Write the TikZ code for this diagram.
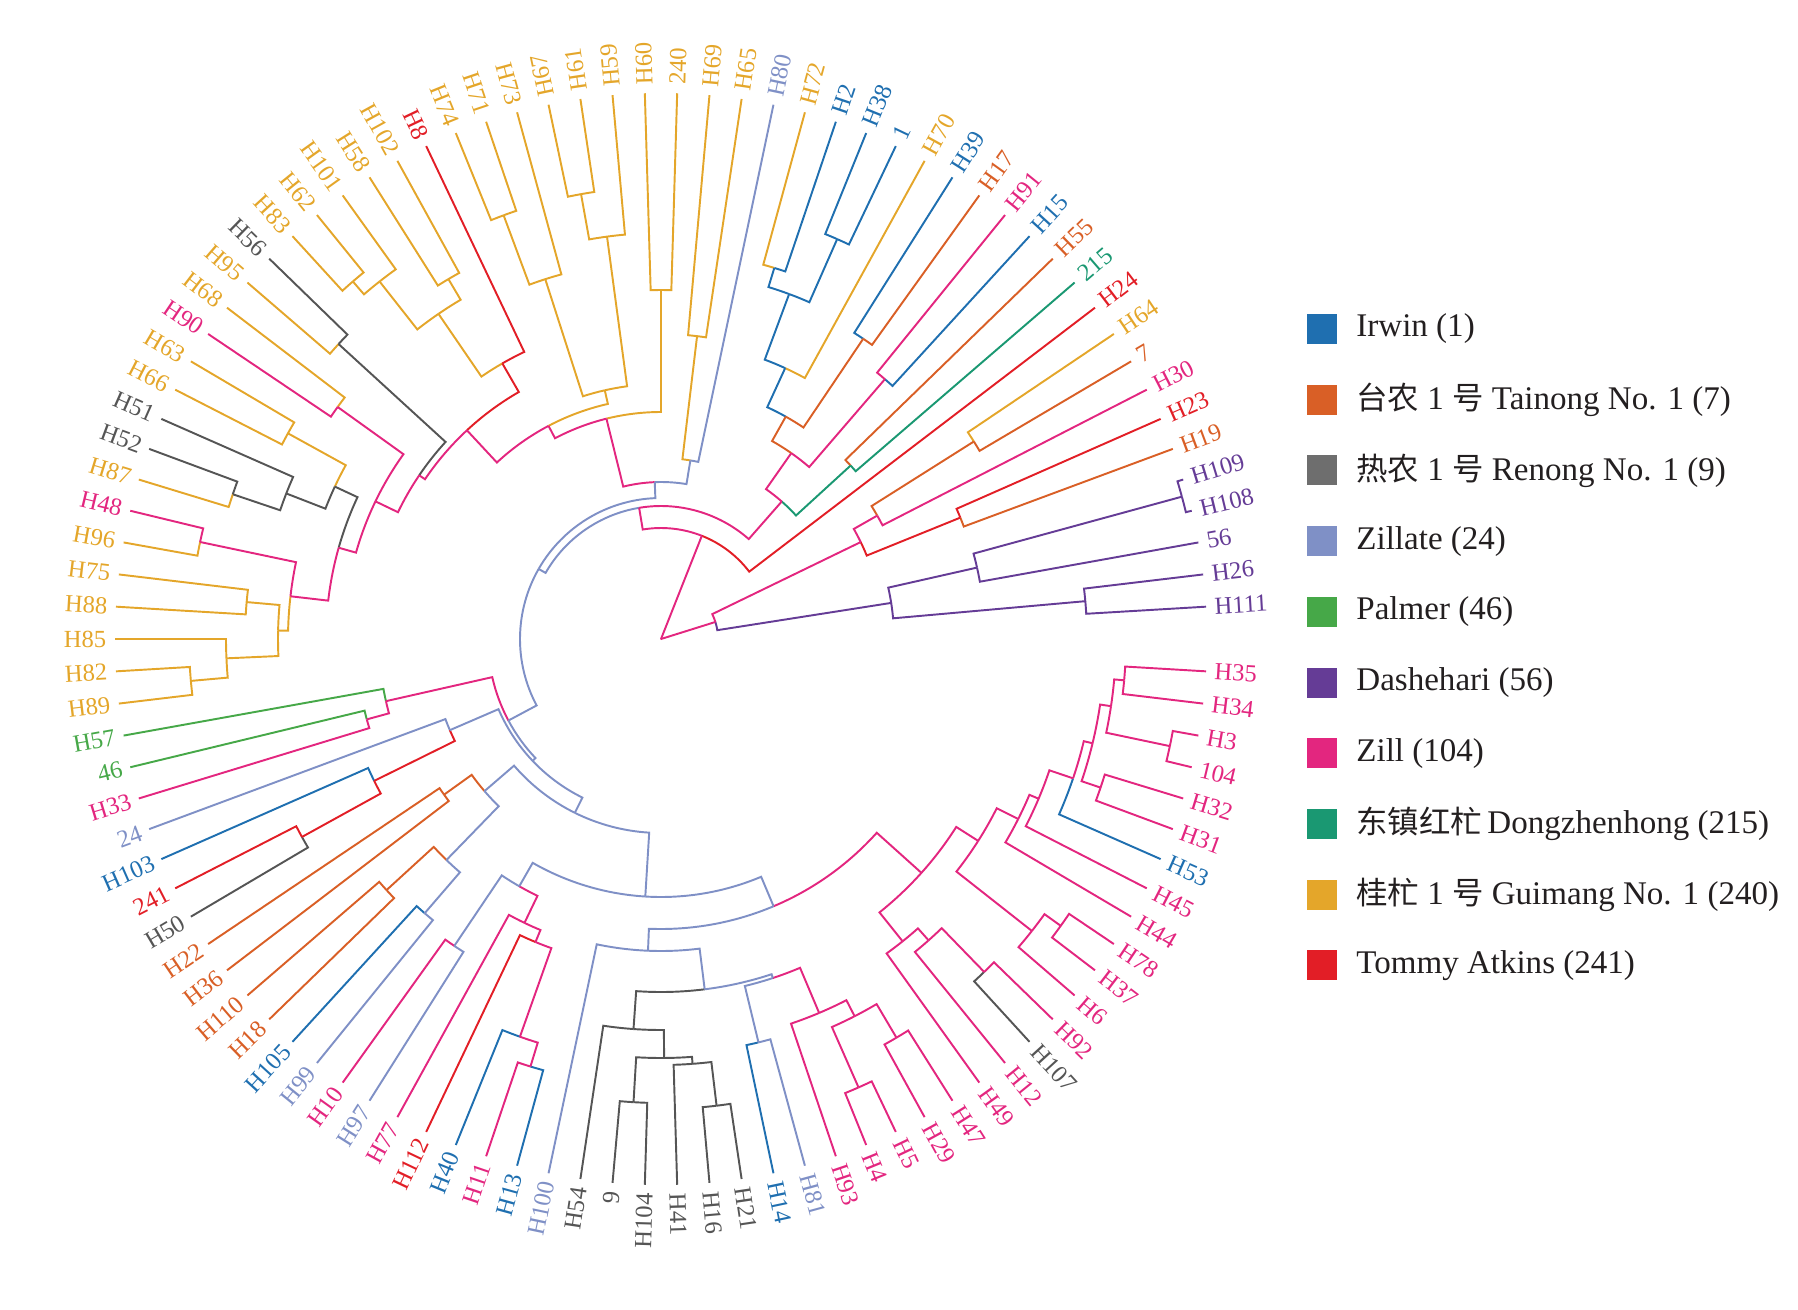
\documentclass[tikz,border=0pt]{standalone}
\usepackage{fontspec}
\setmainfont{Liberation Serif}
\newfontfamily\cjkfont[Scale=0.95]{Noto Sans CJK SC}
\usetikzlibrary{positioning}

\definecolor{cIrwin}{HTML}{1F6FB0}
\definecolor{cTainong}{HTML}{D95F26}
\definecolor{cRenong}{HTML}{555555}
\definecolor{cZillate}{HTML}{7F90C6}
\definecolor{cPalmer}{HTML}{46A848}
\definecolor{cDashe}{HTML}{653C96}
\definecolor{cZill}{HTML}{E3267F}
\definecolor{cDong}{HTML}{1A9872}
\definecolor{cGui}{HTML}{E4A62A}
\definecolor{cTommy}{HTML}{E21E26}
\definecolor{cInk}{HTML}{231F20}

\tikzset{
    branch/.style={line width=0.55pt},
    tiplabel/.style={font=\fontsize{7}{8}\selectfont, inner sep=0pt},
    legkey/.style={minimum width=3mm, minimum height=3mm, inner sep=0pt},
    legtext/.style={font=\fontsize{9.4}{11}\selectfont, text=cInk, inner sep=0pt}
}

% a tip: label, index around the circle, colour
\newcommand{\tipleaf}[3]{
    \pgfmathsetmacro{\angT}{(360/106)*#2}
    \expandafter\xdef\csname angL#1\endcsname{\angT}
    \expandafter\xdef\csname radL#1\endcsname{546}
    \expandafter\xdef\csname colL#1\endcsname{#3}
    \def\rotT{\angT}\def\ancT{west}
    \ifdim\angT pt>103.6pt\relax
        \ifdim\angT pt<270pt\relax
            \def\rotT{\angT-180}\def\ancT{east}
        \fi
    \fi
    \node[tiplabel, text=#3, anchor=\ancT, rotate=\rotT] (L#1) at (\angT:554) {#1};
}

% a clade: name, radius, colour, child a, child b
\newcommand{\clade}[5]{
    \edef\colA{\csname col#4\endcsname}\edef\colB{\csname col#5\endcsname}
    \edef\radA{\csname rad#4\endcsname}\edef\radB{\csname rad#5\endcsname}
    \pgfmathsetmacro{\angA}{\csname ang#4\endcsname}
    \pgfmathsetmacro{\angB}{\csname ang#5\endcsname}
    \pgfmathsetmacro{\angM}{(\angA+\angB)/2}
    \draw[branch, draw=\colA] (\angM:#2) arc[start angle=\angM, end angle=\angA, radius=#2*0.1mm] -- (\angA:\radA);
    \draw[branch, draw=\colB] (\angM:#2) arc[start angle=\angM, end angle=\angB, radius=#2*0.1mm] -- (\angB:\radB);
    \expandafter\xdef\csname ang#1\endcsname{\angM}
    \expandafter\xdef\csname rad#1\endcsname{#2}
    \expandafter\xdef\csname col#1\endcsname{#3}
}

\begin{document}
\begin{tikzpicture}[x=0.1mm, y=0.1mm]
    \useasboundingbox (-661,-670) rectangle (1137,639);

    % tips, counter-clockwise from H111
    \foreach \lab/\col [count=\i] in {H111/cDashe, H26/cDashe, 56/cDashe, H108/cDashe, H109/cDashe,
        H19/cTainong, H23/cTommy, H30/cZill, 7/cTainong, H64/cGui, H24/cTommy, 215/cDong, H55/cTainong,
        H15/cIrwin, H91/cZill, H17/cTainong, H39/cIrwin, H70/cGui, 1/cIrwin, H38/cIrwin, H2/cIrwin,
        H72/cGui, H80/cZillate, H65/cGui, H69/cGui, 240/cGui, H60/cGui, H59/cGui, H61/cGui, H67/cGui,
        H73/cGui, H71/cGui, H74/cGui, H8/cTommy, H102/cGui, H58/cGui, H101/cGui, H62/cGui, H83/cGui,
        H56/cRenong, H95/cGui, H68/cGui, H90/cZill, H63/cGui, H66/cGui, H51/cRenong, H52/cRenong,
        H87/cGui, H48/cZill, H96/cGui, H75/cGui, H88/cGui, H85/cGui, H82/cGui, H89/cGui, H57/cPalmer,
        46/cPalmer, H33/cZill, 24/cZillate, H103/cIrwin, 241/cTommy, H50/cRenong, H22/cTainong,
        H36/cTainong, H110/cTainong, H18/cTainong, H105/cIrwin, H99/cZillate, H10/cZill, H97/cZillate,
        H77/cZill, H112/cTommy, H40/cIrwin, H11/cZill, H13/cIrwin, H100/cZillate, H54/cRenong,
        9/cRenong, H104/cRenong, H41/cRenong, H16/cRenong, H21/cRenong, H14/cIrwin, H81/cZillate,
        H93/cZill, H4/cZill, H5/cZill, H29/cZill, H47/cZill, H49/cZill, H12/cZill, H107/cRenong,
        H92/cZill, H6/cZill, H37/cZill, H78/cZill, H44/cZill, H45/cZill, H53/cIrwin, H31/cZill,
        H32/cZill, 104/cZill, H3/cZill, H34/cZill, H35/cZill}
    {
        \edef\tmp{\noexpand\tipleaf{\lab}{\i}{\col}}\tmp
    }

    % Dashehari group and right side
    \clade{pua}{540}{cDashe}{LH108}{LH109}
    \clade{pub}{324}{cDashe}{L56}{pua}
    \clade{puc}{426}{cDashe}{LH111}{LH26}
    \clade{pud}{233}{cDashe}{puc}{pub}
    \clade{ora}{370}{cTainong}{L7}{LH64}
    \clade{pka}{249}{cZill}{LH30}{ora}
    \clade{rda}{323}{cTommy}{LH19}{LH23}
    \clade{pkb}{222}{cZill}{rda}{pka}
    \clade{pkc}{57}{cZill}{pud}{pkb}

    % top right
    \clade{gra}{257}{cDong}{L215}{LH55}
    \clade{pkd}{343}{cZill}{LH15}{LH91}
    \clade{orb}{362}{cTainong}{LH17}{LH39}
    \clade{bla}{437}{cIrwin}{L1}{LH38}
    \clade{blb}{388}{cIrwin}{LH2}{LH72}
    \clade{blc}{368}{cIrwin}{bla}{blb}
    \clade{bld}{298}{cIrwin}{LH70}{blc}
    \clade{orc}{255}{cTainong}{orb}{bld}
    \clade{pke}{227}{cZill}{pkd}{orc}
    \clade{pkf}{183}{cZill}{gra}{pke}

    % top left
    \clade{yea}{305}{cGui}{LH65}{LH69}
    \clade{zia}{181}{cZillate}{LH80}{yea}
    \clade{yeb}{349}{cGui}{L240}{LH60}
    \clade{yec}{452}{cGui}{LH61}{LH67}
    \clade{yed}{406}{cGui}{LH59}{yec}
    \clade{yee}{452}{cGui}{LH71}{LH74}
    \clade{yef}{378}{cGui}{LH73}{yee}
    \clade{yeg}{255}{cGui}{yed}{yef}
    \clade{yeh}{418}{cGui}{LH102}{LH58}
    \clade{yei}{472}{cGui}{LH62}{LH83}
    \clade{yej}{455}{cGui}{LH101}{yei}
    \clade{yek}{394}{cGui}{yeh}{yej}
    \clade{rdb}{318}{cTommy}{LH8}{yek}
    \clade{gya}{437}{cRenong}{LH56}{LH95}
    \clade{pkg}{398}{cZill}{LH68}{LH90}
    \clade{yel}{426}{cGui}{LH63}{LH66}
    \clade{gyb}{452}{cRenong}{LH52}{LH87}
    \clade{gyc}{402}{cRenong}{LH51}{gyb}
    \clade{gyd}{360}{cRenong}{yel}{gyc}
    \clade{pkh}{471}{cZill}{LH48}{LH96}
    \clade{yem}{416}{cGui}{LH75}{LH88}
    \clade{yen}{472}{cGui}{LH82}{LH89}
    \clade{yeo}{435}{cGui}{LH85}{yen}
    \clade{yep}{383}{cGui}{yem}{yeo}
    \clade{pki}{373}{cZill}{pkh}{yep}
    \clade{pkj}{335}{cZill}{gyd}{pki}
    \clade{pkk}{317}{cZill}{pkg}{pkj}
    \clade{pkl}{292}{cZill}{gya}{pkk}
    \clade{pkm}{285}{cZill}{rdb}{pkl}
    \clade{pkn}{241}{cZill}{yeg}{pkm}
    \clade{pko}{227}{cZill}{yeb}{pkn}
    \clade{zib}{157}{cZillate}{zia}{pko}

    % lower half
    \clade{pkp}{305}{cZill}{L46}{LH33}
    \clade{pkq}{282}{cZill}{LH57}{pkp}
    \clade{rdc}{410}{cTommy}{L241}{LH50}
    \clade{rdd}{320}{cTommy}{LH103}{rdc}
    \clade{zic}{230}{cZillate}{L24}{rdd}
    \clade{ord}{267}{cTainong}{LH22}{LH36}
    \clade{ore}{372}{cTainong}{LH110}{LH18}
    \clade{zid}{362}{cZillate}{LH105}{LH99}
    \clade{zie}{308}{cZillate}{ore}{zid}
    \clade{zif}{233}{cZillate}{ord}{zie}
    \clade{zig}{370}{cZillate}{LH10}{LH97}
    \clade{pkr}{447}{cZill}{LH11}{LH13}
    \clade{pks}{422}{cZill}{LH40}{pkr}
    \clade{pkt}{328}{cZill}{LH112}{pks}
    \clade{pku}{315}{cZill}{LH77}{pkt}
    \clade{zih}{285}{cZillate}{zig}{pku}
    \clade{gye}{464}{cRenong}{L9}{LH104}
    \clade{gyf}{470}{cRenong}{LH16}{LH21}
    \clade{gyg}{426}{cRenong}{LH41}{gyf}
    \clade{gyh}{419}{cRenong}{gye}{gyg}
    \clade{gyi}{391}{cRenong}{LH54}{gyh}
    \clade{zii}{415}{cZillate}{LH14}{LH81}
    \clade{pkv}{490}{cZill}{LH4}{LH5}
    \clade{pkw}{463}{cZill}{LH29}{LH47}
    \clade{pkx}{424}{cZill}{pkv}{pkw}
    \clade{pky}{406}{cZill}{LH93}{pkx}
    \clade{zij}{357}{cZillate}{zii}{pky}
    \clade{zik}{353}{cZillate}{gyi}{zij}
    \clade{zil}{312}{cZillate}{LH100}{zik}
    \clade{pkz}{464}{cZill}{LH107}{LH92}
    \clade{pma}{403}{cZill}{LH12}{pkz}
    \clade{pmb}{387}{cZill}{LH49}{pma}
    \clade{pmc}{492}{cZill}{LH37}{LH78}
    \clade{pmd}{472}{cZill}{LH6}{pmc}
    \clade{pme}{520}{cZill}{LH3}{L104}
    \clade{pmf}{465}{cZill}{LH34}{LH35}
    \clade{pmg}{455}{cZill}{pme}{pmf}
    \clade{pmh}{464}{cZill}{LH31}{LH32}
    \clade{pmi}{444}{cZill}{pmh}{pmg}
    \clade{pmj}{435}{cZill}{LH53}{pmi}
    \clade{pmk}{410}{cZill}{LH45}{pmj}
    \clade{pml}{400}{cZill}{LH44}{pmk}
    \clade{pmm}{376}{cZill}{pmd}{pml}
    \clade{pmn}{350}{cZill}{pmb}{pmm}
    \clade{zim}{290}{cZillate}{zil}{pmn}
    \clade{zin}{258}{cZillate}{zih}{zim}
    \clade{zio}{194}{cZillate}{zif}{zin}
    \clade{zip}{177}{cZillate}{zic}{zio}
    \clade{ziq}{173}{cZillate}{pkq}{zip}

    % backbone to the root
    \clade{zir}{141}{cZillate}{zib}{ziq}
    \clade{pna}{133}{cZill}{pkf}{zir}
    \clade{pnb}{111}{cZill}{LH24}{pna}
    \clade{root}{0.5}{cZill}{pkc}{pnb}

    % legend
    \node[legkey, fill=cIrwin] (kIrwin) at (661,310) {};
    \node[legkey, fill=cTainong, below=3.93mm of kIrwin] (kTainong) {};
    \node[legkey, fill=cRenong!85!white, below=3.93mm of kTainong] (kRenong) {};
    \node[legkey, fill=cZillate, below=3.93mm of kRenong] (kZillate) {};
    \node[legkey, fill=cPalmer, below=3.93mm of kZillate] (kPalmer) {};
    \node[legkey, fill=cDashe, below=3.93mm of kPalmer] (kDashe) {};
    \node[legkey, fill=cZill, below=3.93mm of kDashe] (kZill) {};
    \node[legkey, fill=cDong, below=3.93mm of kZill] (kDong) {};
    \node[legkey, fill=cGui, below=3.93mm of kDong] (kGui) {};
    \node[legkey, fill=cTommy, below=3.93mm of kGui] (kTommy) {};
    \node[legtext, right=1.8mm of kIrwin] (tIrwin) {Irwin (1)};
    \node[legtext, right=1.8mm of kTainong] (tTainong) {{\cjkfont 台农} 1 {\cjkfont 号} Tainong No. 1 (7)};
    \node[legtext, right=1.8mm of kRenong] (tRenong) {{\cjkfont 热农} 1 {\cjkfont 号} Renong No. 1 (9)};
    \node[legtext, right=1.8mm of kZillate] (tZillate) {Zillate (24)};
    \node[legtext, right=1.8mm of kPalmer] (tPalmer) {Palmer (46)};
    \node[legtext, right=1.8mm of kDashe] (tDashe) {Dashehari (56)};
    \node[legtext, right=1.8mm of kZill] (tZill) {Zill (104)};
    \node[legtext, right=1.8mm of kDong] (tDong) {{\cjkfont 东镇红杧}\,Dongzhenhong (215)};
    \node[legtext, right=1.8mm of kGui] (tGui) {{\cjkfont 桂杧} 1 {\cjkfont 号} Guimang No. 1 (240)};
    \node[legtext, right=1.8mm of kTommy] (tTommy) {Tommy Atkins (241)};
\end{tikzpicture}
\end{document}
